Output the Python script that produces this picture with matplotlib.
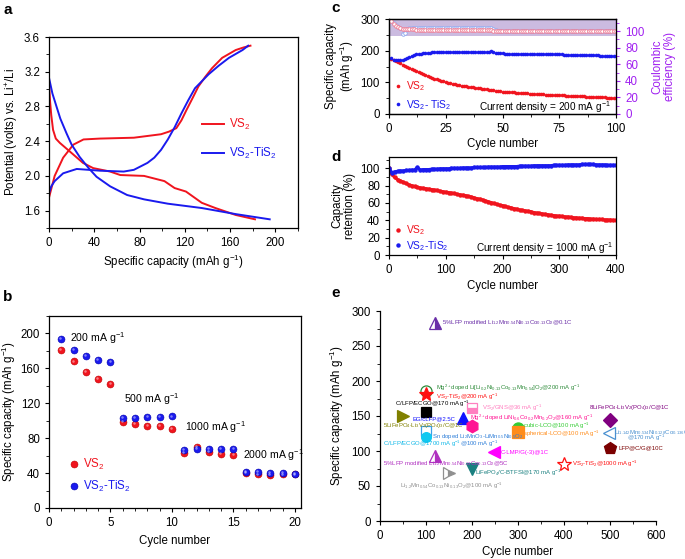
import numpy as np
import matplotlib
matplotlib.use('Agg')
import matplotlib.pyplot as plt
from matplotlib.ticker import MultipleLocator
import matplotlib.transforms as mtrans

plt.rcParams['font.family'] = ['Liberation Sans', 'DejaVu Sans']
plt.rcParams['mathtext.fontset'] = 'custom'
plt.rcParams['mathtext.rm'] = 'Liberation Sans'
plt.rcParams['mathtext.it'] = 'Liberation Sans:italic'
plt.rcParams['mathtext.bf'] = 'Liberation Sans:bold'
plt.rcParams['mathtext.default'] = 'regular'
plt.rcParams['axes.linewidth'] = 0.9
plt.rcParams['xtick.direction'] = 'out'
plt.rcParams['ytick.direction'] = 'out'
plt.rcParams['xtick.major.size'] = 3
plt.rcParams['ytick.major.size'] = 3
plt.rcParams['xtick.minor.size'] = 2
plt.rcParams['ytick.minor.size'] = 2
plt.rcParams['xtick.labelsize'] = 8.3
plt.rcParams['ytick.labelsize'] = 8.3
plt.rcParams['axes.labelsize'] = 8.3

RED = '#f0141e'
BLUE = '#1a1aee'
PURPLE = '#a020f0'

# ---------------- data: panel a ----------------
a_vs2_chg_cap = [0, 5, 12.5, 21.5, 30.5, 45, 75, 99, 106, 112.5, 117, 121.5, 127, 132, 138, 144, 153, 165, 172, 178]
a_vs2_chg_v = [1.75, 2.0, 2.21, 2.36, 2.42, 2.43, 2.44, 2.48, 2.51, 2.55, 2.64, 2.76, 2.9, 3.03, 3.14, 3.24, 3.36, 3.45, 3.48, 3.5]
a_vs2_dis_cap = [0, 1, 2, 3.6, 6, 9.6, 18.5, 30, 39, 54, 63, 84, 102, 111, 121, 135, 147, 165, 182]
a_vs2_dis_v = [3.07, 2.85, 2.7, 2.53, 2.43, 2.38, 2.28, 2.15, 2.09, 2.05, 2.01, 2.0, 1.94, 1.86, 1.82, 1.69, 1.63, 1.55, 1.5]
a_tis_chg_cap = [0, 2, 5, 12.5, 24.5, 35, 45, 66, 75, 81, 87, 93, 99, 105, 111, 117, 123, 129, 141, 150, 159, 171, 176]
a_tis_chg_v = [1.8, 1.88, 1.94, 2.03, 2.08, 2.07, 2.06, 2.05, 2.07, 2.11, 2.15, 2.21, 2.3, 2.42, 2.56, 2.72, 2.87, 3.01, 3.17, 3.27, 3.36, 3.45, 3.5]
a_tis_dis_cap = [0, 3, 6.6, 10, 15.5, 20, 27, 35, 42, 54, 69, 84, 105, 135, 165, 195]
a_tis_dis_v = [3.13, 2.95, 2.8, 2.66, 2.49, 2.36, 2.22, 2.09, 1.99, 1.88, 1.78, 1.73, 1.68, 1.63, 1.56, 1.5]

# ---------------- data: panel b ----------------
b_cycles = list(range(1, 21))
b_vs2 = [181, 168, 156, 148, 142, 99, 96, 94, 94, 91, 63, 70, 64, 62, 61, 40, 38.5, 38, 38.5, 38.5]
b_tis = [193.5, 181, 174, 170, 167, 103, 103, 104, 104, 105, 67, 68, 68, 68, 68, 41, 41, 40, 40, 39]
b_rate_labels = ['200 mA g$^{-1}$', '500 mA g$^{-1}$', '1000 mA g$^{-1}$', '2000 mA g$^{-1}$']
b_rate_x = [1.7, 6.1, 11.1, 15.8]
b_rate_y = [194.6, 125, 93, 61]

# ---------------- data: panel c ----------------
c_vs2_cap = [175, 172, 168, 164, 160, 156, 152, 148, 145, 141, 138, 135, 132, 129, 126, 123, 120, 117, 114, 112,
             109, 107, 105, 103, 100, 98, 97, 95, 94, 92, 91, 90, 88, 87, 86, 85, 84, 83, 82, 81,
             80, 79, 78, 77, 76, 75, 74, 73, 72, 71, 70, 70, 69, 68, 68, 67, 67, 66, 66, 65,
             65, 64, 64, 63, 63, 63, 62, 62, 61, 61, 61, 60, 60, 60, 60, 59, 59, 58, 58, 58,
             57, 57, 57, 56, 56, 56, 55, 55, 55, 54, 54, 54, 53, 53, 53, 52, 52, 52, 51, 51]
c_tis_cap = [176, 172, 170, 169, 170, 172, 175, 178, 181, 184, 186, 188, 190, 191, 192, 193, 194, 194, 195, 195,
             195, 196, 196, 196, 196, 196, 197, 197, 197, 197, 197, 197, 197, 197, 197, 197, 197, 197, 197, 197,
             197, 197, 197, 197, 198, 196, 194, 193, 192, 192, 191, 191, 191, 190, 190, 190, 190, 189, 189, 189,
             189, 189, 189, 189, 189, 188, 188, 188, 188, 188, 188, 188, 188, 188, 188, 188, 187, 187, 187, 187,
             187, 187, 186, 186, 186, 186, 186, 185, 185, 185, 185, 185, 184, 184, 184, 184, 184, 183, 183, 183]
c_vs2_ce = [112, 108, 106, 105, 104, 103, 103, 102, 102, 102, 102, 101.5, 101.5, 101.5, 101.5, 101, 101, 101, 101, 101,
            101, 101, 101, 101, 101, 101, 101, 101, 101, 101, 101, 101, 101, 101, 101, 101, 101, 101, 101, 101,
            101, 101, 101, 101, 101, 100.5, 100.5, 100, 100, 100, 100, 100, 100, 100, 99.5, 100, 100, 99.5, 100, 100,
            99.5, 100, 100, 100, 99.5, 100, 100, 100, 100, 99.5, 100, 100, 100, 100, 100, 100, 99.5, 100, 100, 100,
            100, 100, 100, 100, 99.5, 100, 100, 100, 100, 100, 100, 100, 100, 99.5, 100, 100, 100, 100, 99.5, 100]
c_tis_ce = [114, 110, 107, 105, 104, 96, 98, 103, 104, 104, 104, 104, 104, 104, 104, 104, 104, 104, 104, 104,
            104, 104, 104, 104, 104, 103.5, 103.5, 103.5, 103.5, 103.5, 103.5, 103.5, 103.5, 103.5, 103.5, 103.5, 103.5, 103.5, 103.5, 103.5,
            103.5, 103.5, 103.5, 103.5, 103.5, 102, 101, 100.5, 100.5, 100.5, 100, 100, 100, 100, 100, 100, 100, 100, 100, 100,
            100, 100, 100, 100, 100, 100, 100, 100, 100, 100, 100, 100, 100, 100, 100, 100, 100, 100, 100, 100,
            100, 100, 100, 100, 100, 100, 100, 100, 100, 100, 100, 100, 100, 100, 100, 100, 100, 100, 100, 100]

# ---------------- data: panel d ----------------
d_cycles = list(range(0, 401, 5))
d_tis = [100, 95, 96, 96.5, 97, 97, 97.5, 97.5, 98, 98, 101, 98, 98.5, 98.5, 98.5, 99, 99, 99, 99.5, 99.5, 99.5,
         99.5, 100, 100, 100, 100, 100.5, 100.5, 100.5, 100.5, 101,
         101, 101, 101, 101, 101.5, 101.5, 101.5, 101.5, 101.5, 102,
         102, 102, 102, 102, 102, 102.5, 102.5, 102.5, 102.5, 102.5,
         103, 103, 103, 103, 103, 103, 103, 103.5, 103.5, 103.5,
         103.5, 103.5, 104, 104, 104, 104, 104, 104.5, 104.5, 104.5,
         104.5, 104.5, 104, 104, 104, 104, 103.5, 103.5, 103.5, 103.5]
d_vs2 = [100, 93, 89.5, 87, 85.5, 84, 82.5, 81, 80, 79, 78, 77.5, 77, 76.5, 76, 75.5, 75, 74.5, 73.5, 73, 72.5,
         72, 71.5, 71, 70, 69.5, 69, 68.5, 67.5, 67, 66,
         65, 64.5, 63.5, 62.5, 61.5, 60.5, 59.5, 58.5, 57.5, 57,
         56, 55, 54.5, 53.5, 53, 52, 51.5, 51, 50.5, 50,
         49, 48.5, 48, 47.5, 47, 46.5, 46, 45.5, 45, 45,
         44.5, 44, 44, 43.5, 43, 43, 42.5, 42.5, 42, 42,
         41.5, 41.5, 41, 41, 41, 40.5, 40.5, 40.5, 40, 40]

# ---------------- data: panel e ----------------
e_x = [120, 100, 100, 99, 51, 180, 199, 199, 100, 100, 301, 301, 500, 498, 500, 248, 119, 200, 151, 400]
e_y = [283, 186, 181, 156, 150, 147, 162, 136, 128, 120, 133, 127, 145, 126, 104, 98, 93, 74, 68, 81]
e_labels = [
    '5%LFP modified Li$_{1.2}$Mn$_{0.54}$Ni$_{0.13}$Co$_{0.13}$O$_2$@0.1C',
    'Mg$^{2+}$doped Li[Li$_{0.2}$Ni$_{0.13}$Co$_{0.13}$Mn$_{0.54}$]O$_2$@200 mA g$^{-1}$',
    'VS$_2$-TiS$_2$@200 mA g$^{-1}$',
    'C/LFP/ECGO@170 mA g$^{-1}$',
    '5LiFePO$_4$$\\cdot$Li$_3$V$_2$(PO$_4$)$_3$/C@1C',
    'EG/cLFP@2.5C',
    'VS$_2$/GNS@36 mA g$^{-1}$',
    'Mg$^{2+}$doped LiNi$_{0.6}$Co$_{0.2}$Mn$_{0.2}$O$_2$@160 mA g$^{-1}$',
    'Sn doped Li$_2$MnO$_3$-LiMn$_{0.5}$Ni$_{0.5}$O$_2$',
    'C/LFP/ECGO@1700 mA g$^{-1}$',
    'cubic-LCO@100 mA g$^{-1}$',
    'spherical-LCO@100 mA g$^{-1}$',
    '8LiFePO$_4$$\\cdot$Li$_3$V$_2$(PO$_4$)$_3$/C@1C',
    'Li$_{1.142}$Mn$_{0.534}$Ni$_{0.128}$Co$_{0.136}$O$_2$',
    'LFP@C/G@10C',
    'C-LMP/G(-3)@1C',
    '5%LFP modified Li$_{1.2}$Mn$_{0.54}$Ni$_{0.13}$Co$_{0.13}$O$_2$@5C',
    'LiFePO$_4$/C-BTFSI@170 mA g$^{-1}$',
    'Li$_{1.2}$Mn$_{0.54}$Co$_{0.13}$Ni$_{0.13}$O$_2$@100 mA g$^{-1}$',
    'VS$_2$-TiS$_2$@1000 mA g$^{-1}$',
]
# second text lines of two-line labels in panel e (index of point, text)
e_label_tails = {8: '@100 mA g$^{-1}$', 13: '@170 mA g$^{-1}$'}
# styles for panel e
e_colors = ['#6a2fa8', '#2e8b3a', '#ff1010', '#000000', '#808000', '#1010ff', '#ff7fc0', '#ff1493',
            '#3aa0e8', '#10c8f0', '#33cc33', '#ff8c1a', '#800080', '#4a90d0', '#7b0000', '#ff00ff',
            '#b030c0', '#1a8080', '#909090', '#ff1010']
e_text_colors = ['#6a2fa8', '#2e8b3a', '#ff1010', '#000000', '#808000', '#1010ff', '#ff7fc0', '#ff1493',
                 '#2f7fd8', '#10b8e8', '#33cc33', '#ff8c1a', '#800080', '#4a90d0', '#7b0000', '#ff00ff',
                 '#b030c0', '#1a8080', '#909090', '#ff1010']
e_markers = ['^', 'o', '*', 's', '>', '^', 's', 'h', 's', 'o', 'o', 's', 'D', '<', 'p', '<', '^', 'v', '>', '*']
e_fill = ['right', 'none', 'full', 'full', 'full', 'full', 'bottom', 'full', 'none', 'full', 'full', 'full',
          'full', 'none', 'full', 'full', 'right', 'full', 'right', 'none']
e_ms = [8, 8, 10, 7, 8, 8, 7, 9, 7, 7, 8, 8, 7, 9, 9, 9, 8, 9, 8, 10]
e_text_x = [134, 122, 122, 33, 6.5, 71, 221, 196, 112, 6, 310, 310, 455, 509, 518, 262, 7, 206, 43, 417]
e_text_y = [283, 190, 177.6, 167, 137, 146, 162, 148, 121, 110, 136, 125, 162, 127, 104, 98, 82, 69, 50, 81]
e_tail_x = {8: 174, 13: 538}
e_tail_y = {8: 110, 13: 119}

# ---------------- figure ----------------
fig = plt.figure(figsize=(6.85, 5.59), dpi=100)
W, H = 685.0, 559.0


def add_ax(l, r, t, b):
    return fig.add_axes([l / W, 1 - b / H, (r - l) / W, (b - t) / H])


# panel a
axa = add_ax(49, 298, 37, 228)
axa.plot(a_vs2_chg_cap, a_vs2_chg_v, color=RED, lw=1.4, label='VS$_2$')
axa.plot(a_vs2_dis_cap, a_vs2_dis_v, color=RED, lw=1.4)
axa.plot(a_tis_chg_cap, a_tis_chg_v, color=BLUE, lw=1.4, label='VS$_2$-TiS$_2$')
axa.plot(a_tis_dis_cap, a_tis_dis_v, color=BLUE, lw=1.4)
axa.set_xlim(0, 220)
axa.set_ylim(1.4, 3.6)
axa.xaxis.set_major_locator(MultipleLocator(40))
axa.xaxis.set_minor_locator(MultipleLocator(20))
axa.yaxis.set_major_locator(MultipleLocator(0.4))
axa.yaxis.set_minor_locator(MultipleLocator(0.2))
axa.set_xlabel('Specific capacity (mAh g$^{-1}$)', labelpad=3)
axa.set_ylabel('Potential (volts) vs. Li$^{+}$/Li', labelpad=3)
axa.legend(loc='upper left', bbox_to_anchor=(0.615, 0.58), frameon=False, fontsize=8.3,
           handlelength=1.9, handletextpad=0.45, labelspacing=1.15, labelcolor='linecolor',
           borderpad=0, borderaxespad=0)

# panel b
axb = add_ax(49, 301, 316, 508)
hl = mtrans.ScaledTranslation(-0.6 / 72, 0.6 / 72, fig.dpi_scale_trans)
axb.plot(b_cycles, b_vs2, 'o', color=RED, ms=5, mec='#c00000', mew=0.4, label='VS$_2$')
axb.plot(b_cycles, b_tis, 'o', color=BLUE, ms=5, mec='#0000b0', mew=0.4, label='VS$_2$-TiS$_2$')
axb.plot(b_cycles, b_vs2, 'o', color='white', alpha=0.45, ms=1.8, mew=0,
         transform=axb.transData + hl)
axb.plot(b_cycles, b_tis, 'o', color='white', alpha=0.45, ms=1.8, mew=0,
         transform=axb.transData + hl)
for t, x, y in zip(b_rate_labels, b_rate_x, b_rate_y):
    axb.text(x, y, t, fontsize=7.6, ha='left', va='center')
axb.set_xlim(0, 20.5)
axb.set_ylim(0, 220)
axb.xaxis.set_major_locator(MultipleLocator(5))
axb.xaxis.set_minor_locator(MultipleLocator(1))
axb.yaxis.set_major_locator(MultipleLocator(40))
axb.yaxis.set_minor_locator(MultipleLocator(20))
axb.set_xlabel('Cycle number', labelpad=4)
axb.set_ylabel('Specific capacity (mAh g$^{-1}$)', labelpad=2)
axb.legend(loc='upper left', bbox_to_anchor=(0.085, 0.265), frameon=False, fontsize=8.3,
           handlelength=0.6, handletextpad=0.5, labelspacing=0.55, labelcolor='linecolor',
           borderpad=0, borderaxespad=0)

# panel c
axc = add_ax(389, 616, 19, 114)
axc2 = axc.twinx()
c_cyc = np.arange(1, len(c_vs2_cap) + 1)
axc2.axhspan(94, 114.5, color='#cbbbe0', zorder=0, lw=0)
axc2.plot(c_cyc, c_tis_ce, 'o', mfc='white', mec='#8fa8f0', ms=2.6, mew=0.6, zorder=2)
axc2.plot(c_cyc, c_vs2_ce, 'o', mfc='white', mec='#f07890', ms=2.6, mew=0.6, zorder=3)
axc.plot(c_cyc, c_vs2_cap, 'o', color=RED, ms=2.6, mew=0, label='VS$_2$')
axc.plot(c_cyc, c_tis_cap, 'o', color=BLUE, ms=2.6, mew=0, label='VS$_2$- TiS$_2$')
axc.set_xlim(0, 100)
axc.set_ylim(0, 300)
axc2.set_ylim(0, 114.5)
axc.xaxis.set_major_locator(MultipleLocator(25))
axc.xaxis.set_minor_locator(MultipleLocator(12.5))
axc.yaxis.set_major_locator(MultipleLocator(100))
axc.yaxis.set_minor_locator(MultipleLocator(50))
axc2.yaxis.set_major_locator(MultipleLocator(20))
axc2.yaxis.set_minor_locator(MultipleLocator(10))
axc2.spines['right'].set_color(PURPLE)
axc2.tick_params(axis='y', which='both', colors=PURPLE, labelcolor=PURPLE)
axc.set_xlabel('Cycle number', labelpad=2)
axc.set_ylabel('Specific capacity\n(mAh g$^{-1}$)', labelpad=3, linespacing=1.1)
axc2.set_ylabel('Coulombic\nefficiency (%)', color=PURPLE, labelpad=5, linespacing=1.1)
axc.text(0.978, 0.07, 'Current density = 200 mA g$^{-1}$', transform=axc.transAxes,
         ha='right', va='center', fontsize=7.2)
axc.legend(loc='lower left', bbox_to_anchor=(0.025, 0.025), frameon=False, fontsize=7.4,
           handlelength=0.6, handletextpad=0.5, labelspacing=0.45, labelcolor='linecolor',
           borderpad=0, borderaxespad=0)
axc.set_zorder(axc2.get_zorder() + 1)
axc.patch.set_visible(False)

# panel d
axd = add_ax(389, 616, 157, 255)
axd.plot(d_cycles, d_vs2, '-o', color=RED, ms=3.2, mew=0, lw=2.2, label='VS$_2$')
axd.plot(d_cycles, d_tis, '-o', color=BLUE, ms=3.2, mew=0, lw=2.2, label='VS$_2$-TiS$_2$')
axd.set_xlim(0, 400)
axd.set_ylim(0, 113)
axd.xaxis.set_major_locator(MultipleLocator(100))
axd.xaxis.set_minor_locator(MultipleLocator(50))
axd.yaxis.set_major_locator(MultipleLocator(20))
axd.yaxis.set_minor_locator(MultipleLocator(10))
axd.set_xlabel('Cycle number', labelpad=3)
axd.set_ylabel('Capacity\nretention (%)', labelpad=3, linespacing=1.1)
axd.text(0.987, 0.068, 'Current density = 1000 mA g$^{-1}$', transform=axd.transAxes,
         ha='right', va='center', fontsize=7.2)
hd = [plt.Line2D([], [], ls='none', marker='o', color=RED, ms=3.2, mew=0),
      plt.Line2D([], [], ls='none', marker='o', color=BLUE, ms=3.2, mew=0)]
axd.legend(hd, ['VS$_2$', 'VS$_2$-TiS$_2$'], loc='lower left', bbox_to_anchor=(0.025, 0.025),
           frameon=False, fontsize=7.4, handlelength=0.6, handletextpad=0.5, labelspacing=0.15,
           labelcolor='linecolor', borderpad=0, borderaxespad=0)

# panel e
axe = add_ax(380, 656, 311, 521)
for i in range(len(e_x)):
    fs = e_fill[i]
    kw = dict(marker=e_markers[i], ms=e_ms[i], color=e_colors[i], ls='none', mec=e_colors[i], mew=0.9)
    if fs == 'none':
        kw.update(mfc='white')
    elif fs in ('right', 'bottom'):
        kw.update(fillstyle=fs, mfc=e_colors[i], mfcalt='white')
    axe.plot([e_x[i]], [e_y[i]], clip_on=False, **kw)
    axe.text(e_text_x[i], e_text_y[i], e_labels[i], color=e_text_colors[i], fontsize=4.3,
             ha='left', va='center')
    if i in e_label_tails:
        axe.text(e_tail_x[i], e_tail_y[i], e_label_tails[i], color=e_text_colors[i], fontsize=4.3,
                 ha='left', va='center')
axe.set_xlim(0, 600)
axe.set_ylim(0, 300)
axe.spines['top'].set_visible(False)
axe.spines['right'].set_visible(False)
axe.xaxis.set_major_locator(MultipleLocator(100))
axe.xaxis.set_minor_locator(MultipleLocator(50))
axe.yaxis.set_major_locator(MultipleLocator(50))
axe.yaxis.set_minor_locator(MultipleLocator(25))
axe.set_xlabel('Cycle number', labelpad=3)
axe.set_ylabel('Specific capacity (mAh g$^{-1}$)', labelpad=4)

# panel letters
for lab, x, y in [('a', 3, 10), ('b', 3, 297), ('c', 331, 8), ('d', 331, 157), ('e', 331, 293)]:
    fig.text(x / W, 1 - y / H, lab, fontsize=11, fontweight='bold', ha='left', va='center')

fig.savefig('out.png', dpi=100)
